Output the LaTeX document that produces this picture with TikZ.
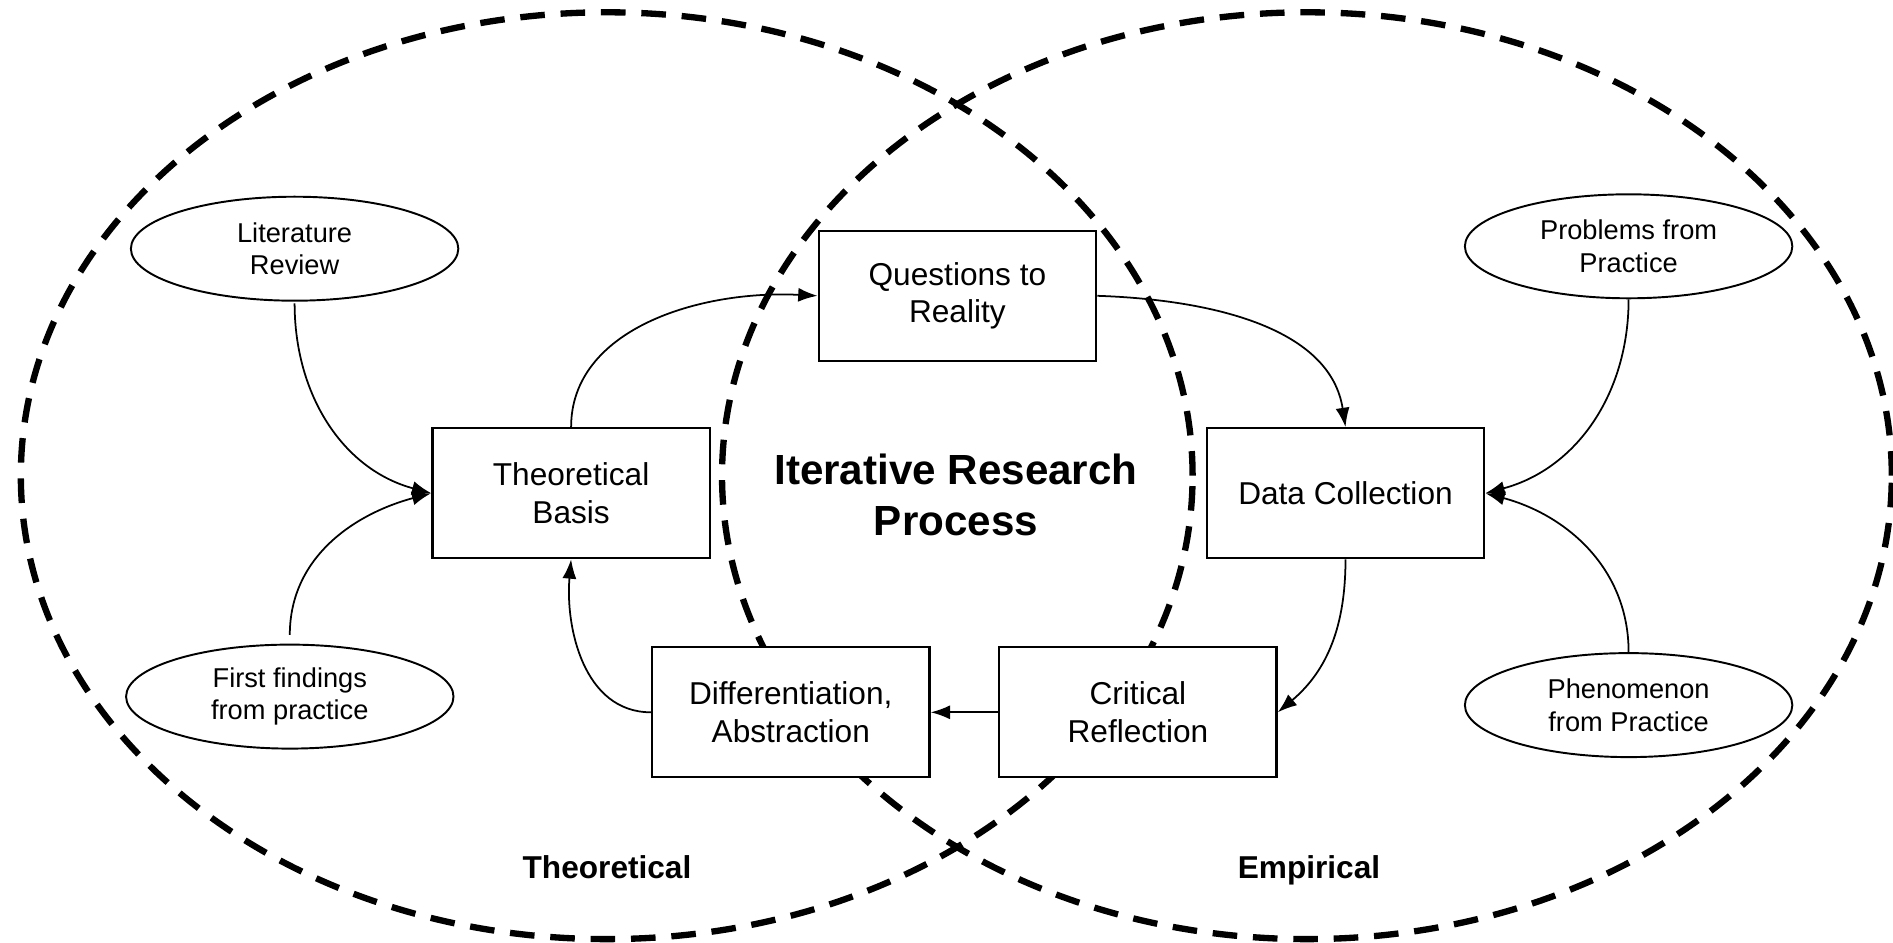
\documentclass[tikz,border=0pt]{standalone}
\usepackage{fontspec}
\setmainfont{Liberation Sans}
\usetikzlibrary{arrows.meta,shapes.geometric}

\begin{document}
\begin{tikzpicture}
	[   x=0.02cm, y=-0.02cm,
	    stage/.style={draw=black,line width=1.3pt,fill=white,minimum width=5.55cm,minimum height=2.6cm,align=center,font=\fontsize{18}{21.6}\selectfont},
	    source/.style={draw=black,line width=1.1pt,fill=white,ellipse,minimum width=6.55cm,minimum height=2.08cm,inner sep=0pt,align=center,font=\fontsize{15.5}{18.6}\selectfont},
	    area/.style={draw=black,line width=3.6pt,dash pattern=on 14pt off 9pt},
	]
	\tikzset{normal arrow/.style={draw,line width=1pt,-{Latex[length=11pt,width=8pt]}}}
	\useasboundingbox (0,0) rectangle (1893,943);
	
	% the two overlapping fields
	\draw[area] (606.7,475.7) ellipse [x radius=11.72cm, y radius=9.27cm];
	\draw[area] (1306.9,475.7) ellipse [x radius=11.70cm, y radius=9.27cm];
	\node[anchor=base,font=\bfseries\fontsize{18}{21.6}\selectfont] (lbl-t) at (607,878) {Theoretical};
	\node[anchor=base,font=\bfseries\fontsize{18}{21.6}\selectfont] (lbl-e) at (1309,878) {Empirical};
	\node[align=center,font=\bfseries\fontsize{24}{28.8}\selectfont] (title) at (956,495) {Iterative Research\\Process};
	
	% the cycle
	\node[stage] (qr) at (957.4,295.8) {Questions to\\Reality};
	\node[stage] (tb) at (571.1,493.2) {Theoretical\\Basis};
	\node[stage] (dc) at (1345.5,493.2) {Data Collection};
	\node[stage] (da) at (790.8,712.3) {Differentiation,\\Abstraction};
	\node[stage] (cr) at (1137.9,712.3) {Critical\\Reflection};
	
	% inputs
	\node[source] (lr) at (294.6,248.7) {Literature\\Review};
	\node[source] (ff) at (289.8,696.6) {First findings\\from practice};
	\node[source] (pp) at (1628.6,246.3) {Problems from\\Practice};
	\node[source] (ph) at (1628.6,705.1) {Phenomenon\\from Practice};
	
	\path[normal arrow] (tb.north) .. controls +(0,-98) and +(-118,-6) .. (qr.west);
	\path[normal arrow] (qr.east) .. controls +(118,4) and +(-15,-98) .. (dc.north);
	\path[normal arrow] (dc.south) to[out=-90,in=40] (cr.east);
	\path[normal arrow] (cr.west) -- (da.east);
	\path[normal arrow] (da.west) to[out=180,in=-95] (tb.south);
	
	\path[normal arrow] ([yshift=-1pt]lr.south) to[out=-90,in=165] (tb.west);
	\path[normal arrow] ([yshift=5pt]ff.north) to[out=90,in=195] (tb.west);
	\path[normal arrow] (pp.south) to[out=-90,in=15] (dc.east);
	\path[normal arrow] (ph.north) to[out=90,in=-15] (dc.east);
\end{tikzpicture}
\end{document}
